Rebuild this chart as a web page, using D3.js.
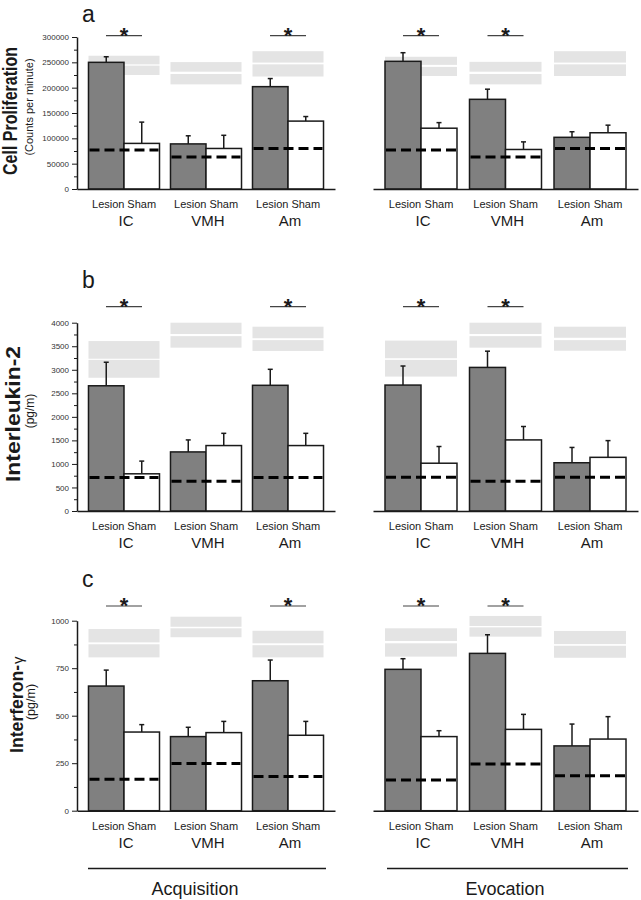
<!DOCTYPE html>
<html><head><meta charset="utf-8">
<script src="https://cdn.jsdelivr.net/npm/d3@7"></script>
<style>body{margin:0;background:#fff} svg{display:block;font-family:"Liberation Sans",Arial,sans-serif}</style>
</head><body><svg id="chart" width="641" height="900"></svg>
<script>
// ---------- data ----------
const groups = ["IC", "VMH", "Am"];
const conditions = ["Lesion", "Sham"];
const phases = ["Acquisition", "Evocation"];
const panelLetters = ["a", "b", "c"];
const panelTitles = ["Cell Proliferation", "Interleukin-2", "Interferon-"];
const panelUnits = ["(Counts per minute)", "(pg/m)", "(pg/m)"];
const yMax = [300000, 4000, 1000];
const yMajorStep = [50000, 500, 250];
const yMinorStep = [25000, 250, 125];

// a: Cell proliferation (counts per minute)
const cellAcqLesion = [250000, 89000, 202000];
const cellAcqSham = [90000, 80000, 134000];
const cellAcqLesionErr = [11000, 16000, 16000];
const cellAcqShamErr = [42000, 26000, 9000];
const cellAcqControl = [77000, 63000, 80000];
const cellEvoLesion = [252000, 177000, 102000];
const cellEvoSham = [120000, 78000, 111000];
const cellEvoLesionErr = [17000, 20000, 11000];
const cellEvoShamErr = [11000, 15000, 15000];
const cellEvoControl = [77000, 63000, 80000];
const cellAcqBands = [[[263000, 246000], [243500, 225000]], [[250500, 231500], [227000, 206500]], [[272000, 249500], [246000, 222000]]];
const cellEvoBands = [[[261000, 245000], [241000, 223000]], [[251000, 231500], [227000, 206500]], [[272000, 249500], [246000, 223000]]];

// b: Interleukin-2 (pg/m)
const il2AcqLesion = [2660, 1255, 2670];
const il2AcqSham = [790, 1390, 1390];
const il2AcqLesionErr = [500, 255, 340];
const il2AcqShamErr = [270, 260, 260];
const il2AcqControl = [710, 630, 710];
const il2EvoLesion = [2675, 3050, 1025];
const il2EvoSham = [1015, 1510, 1140];
const il2EvoLesionErr = [405, 345, 325];
const il2EvoShamErr = [355, 285, 355];
const il2EvoControl = [715, 630, 715];
const il2AcqBands = [[[3610, 3235], [3210, 2830]], [[4000, 3760], [3715, 3470]], [[3915, 3670], [3630, 3400]]];
const il2EvoBands = [[[3620, 3245], [3210, 2855]], [[4000, 3760], [3715, 3470]], [[3915, 3680], [3630, 3405]]];

// c: Interferon-gamma (pg/m)
const ifnAcqLesion = [656, 390, 684];
const ifnAcqSham = [414, 411, 397];
const ifnAcqLesionErr = [84, 49, 109];
const ifnAcqShamErr = [39, 59, 73];
const ifnAcqControl = [165, 248, 180];
const ifnEvoLesion = [744, 828, 341];
const ifnEvoSham = [390, 428, 377];
const ifnEvoLesionErr = [56, 98, 115];
const ifnEvoShamErr = [31, 79, 118];
const ifnEvoControl = [162, 246, 184];
const ifnAcqBands = [[[956, 886], [876, 807]], [[1021, 968], [960, 913]], [[947, 881], [871, 807]]];
const ifnEvoBands = [[[960, 893], [881, 811]], [[1025, 972], [965, 916]], [[946, 877], [868, 805]]];

// significant lesion vs sham differences
const sigAcq = [["IC", "Am"], ["IC", "Am"], ["IC", "Am"]];
const sigEvo = [["IC", "VMH"], ["IC", "VMH"], ["IC", "VMH"]];

// ---------- assemble ----------
const panelData = [
  [{lesion: cellAcqLesion, sham: cellAcqSham, lErr: cellAcqLesionErr, sErr: cellAcqShamErr, ctrl: cellAcqControl, bands: cellAcqBands, sig: sigAcq[0]},
   {lesion: cellEvoLesion, sham: cellEvoSham, lErr: cellEvoLesionErr, sErr: cellEvoShamErr, ctrl: cellEvoControl, bands: cellEvoBands, sig: sigEvo[0]}],
  [{lesion: il2AcqLesion, sham: il2AcqSham, lErr: il2AcqLesionErr, sErr: il2AcqShamErr, ctrl: il2AcqControl, bands: il2AcqBands, sig: sigAcq[1]},
   {lesion: il2EvoLesion, sham: il2EvoSham, lErr: il2EvoLesionErr, sErr: il2EvoShamErr, ctrl: il2EvoControl, bands: il2EvoBands, sig: sigEvo[1]}],
  [{lesion: ifnAcqLesion, sham: ifnAcqSham, lErr: ifnAcqLesionErr, sErr: ifnAcqShamErr, ctrl: ifnAcqControl, bands: ifnAcqBands, sig: sigAcq[2]},
   {lesion: ifnEvoLesion, sham: ifnEvoSham, lErr: ifnEvoLesionErr, sErr: ifnEvoShamErr, ctrl: ifnEvoControl, bands: ifnEvoBands, sig: sigEvo[2]}]
];

// ---------- layout ----------
const panelLayout = [
  {y0: 189, y1: 37, sigY: 35.7, letterY: 22, titleX: 17, titleLen: 128, titleSize: 20, unitX: 33, unitSize: 11, titleCY: 111, unitCY: 107},
  {y0: 511, y1: 322.7, sigY: 306.7, letterY: 288, titleX: 20, titleLen: 136, titleSize: 21, unitX: 34, unitSize: 12, titleCY: 414, unitCY: 411},
  {y0: 810.7, y1: 620.7, sigY: 606, letterY: 587, titleX: 23, titleLen: 88, titleSize: 19, unitX: 35, unitSize: 12.5, titleCY: 709, unitCY: 702}
];
const phaseLayout = [
  {range: [77, 335], pIn: 0.134, pOut: 0.14, lineX: [88, 326], textX: 195},
  {range: [373, 638], pIn: 0.148, pOut: 0.142, lineX: [387, 628], textX: 505}
];

const svg = d3.select("#chart");
const ink = "#1a1a1a";

panelData.forEach((panel, pi) => {
  const lay = panelLayout[pi];
  const y = d3.scaleLinear().domain([0, yMax[pi]]).range([lay.y0, lay.y1]);

  // panel letter
  svg.append("text").attr("x", 82).attr("y", lay.letterY).attr("font-size", 23).attr("fill", ink).text(panelLetters[pi]);

  // y axis (left phase only)
  const majors = d3.range(0, yMax[pi] + 1, yMajorStep[pi]);
  const minors = d3.range(0, yMax[pi] + 1, yMinorStep[pi]).filter(v => !majors.includes(v));
  const axX = phaseLayout[0].range[0];
  const gy = svg.append("g").attr("transform", `translate(${axX},0)`)
    .call(d3.axisLeft(y).tickValues(majors).tickSize(5).tickSizeOuter(0).tickPadding(3).tickFormat(d3.format("d")));
  gy.select(".domain").attr("stroke", ink).attr("stroke-width", 1.5);
  gy.selectAll(".tick line").attr("stroke", ink).attr("stroke-width", 1);
  gy.selectAll(".tick text").attr("font-size", 8).attr("fill", "#333").attr("font-family", "'Liberation Sans', Arial, sans-serif");
  const gm = svg.append("g").attr("transform", `translate(${axX},0)`)
    .call(d3.axisLeft(y).tickValues(minors).tickSize(3).tickSizeOuter(0).tickFormat(""));
  gm.select(".domain").remove();
  gm.selectAll(".tick line").attr("stroke", ink).attr("stroke-width", 1);

  // y titles
  const t = svg.append("text")
    .attr("transform", `translate(${lay.titleX},${lay.titleCY}) rotate(-90)`)
    .attr("text-anchor", "middle").attr("font-weight", "bold").attr("font-size", lay.titleSize).attr("fill", ink)
    .attr("textLength", lay.titleLen).attr("lengthAdjust", "spacingAndGlyphs")
    .text(panelTitles[pi]);
  if (pi === 2) {
    svg.append("text")
      .attr("transform", `translate(${lay.titleX},${lay.titleCY - lay.titleLen / 2 - 1}) rotate(-90)`)
      .attr("text-anchor", "start").attr("font-size", 15).attr("fill", ink).text("γ");
  }
  svg.append("text")
    .attr("transform", `translate(${lay.unitX},${lay.unitCY}) rotate(-90)`)
    .attr("text-anchor", "middle").attr("font-size", lay.unitSize).attr("fill", ink)
    .text(panelUnits[pi]);

  panel.forEach((d, phi) => {
    const pl = phaseLayout[phi];
    const xg = d3.scaleBand().domain(groups).range(pl.range).paddingInner(pl.pIn).paddingOuter(pl.pOut);
    const xc = d3.scaleBand().domain(conditions).range([0, xg.bandwidth()]);
    const g = svg.append("g");

    // grey bands
    groups.forEach((grp, gi) => {
      d.bands[gi].forEach(b => {
        g.append("rect").attr("x", xg(grp)).attr("width", xg.bandwidth())
          .attr("y", y(b[0])).attr("height", y(b[1]) - y(b[0])).attr("fill", "#e4e4e4");
      });
    });

    // x axis line
    const gx = svg.append("g").attr("transform", `translate(0,${lay.y0})`)
      .call(d3.axisBottom(xg).tickSize(0).tickSizeOuter(0).tickFormat(""));
    gx.select(".domain").attr("stroke", ink).attr("stroke-width", 1.5);

    const rows = groups.map((grp, gi) => [
      {grp, cond: "Lesion", v: d.lesion[gi], e: d.lErr[gi]},
      {grp, cond: "Sham", v: d.sham[gi], e: d.sErr[gi]}
    ]).flat();

    // error bars (upper only)
    rows.forEach(r => {
      const cx = xg(r.grp) + xc(r.cond) + xc.bandwidth() / 2;
      g.append("line").attr("x1", cx).attr("x2", cx).attr("y1", y(r.v)).attr("y2", y(r.v + r.e))
        .attr("stroke", ink).attr("stroke-width", 1.5);
      g.append("line").attr("x1", cx - 2.5).attr("x2", cx + 2.5).attr("y1", y(r.v + r.e)).attr("y2", y(r.v + r.e))
        .attr("stroke", ink).attr("stroke-width", 1.5);
    });

    // bars
    g.selectAll("rect.bar").data(rows).join("rect").attr("class", "bar")
      .attr("x", r => xg(r.grp) + xc(r.cond)).attr("width", xc.bandwidth())
      .attr("y", r => y(r.v)).attr("height", r => lay.y0 - y(r.v))
      .attr("fill", r => r.cond === "Lesion" ? "#808080" : "#ffffff")
      .attr("stroke", ink).attr("stroke-width", 1.5);

    // control dashed lines
    groups.forEach((grp, gi) => {
      g.append("line").attr("x1", xg(grp) + 1).attr("x2", xg(grp) + xg.bandwidth() - 1)
        .attr("y1", y(d.ctrl[gi])).attr("y2", y(d.ctrl[gi]))
        .attr("stroke", "#000").attr("stroke-width", 3).attr("stroke-dasharray", "10,5");
    });

    // significance
    d.sig.forEach(grp => {
      const cx = xg(grp) + xg.bandwidth() / 2;
      g.append("line").attr("x1", cx - 18).attr("x2", cx + 18).attr("y1", lay.sigY).attr("y2", lay.sigY)
        .attr("stroke", "#444").attr("stroke-width", 1.2);
      g.append("text").attr("x", cx).attr("y", lay.sigY + 7).attr("text-anchor", "middle")
        .attr("font-size", 22).attr("font-weight", "bold").attr("fill", ink).text("*");
    });

    // condition and group labels
    rows.forEach(r => {
      g.append("text").attr("x", xg(r.grp) + xc(r.cond) + xc.bandwidth() / 2 + (r.cond === "Lesion" ? 2 : 0))
        .attr("y", lay.y0 + 19).attr("text-anchor", "middle").attr("font-size", 11).attr("fill", ink).text(r.cond);
    });
    groups.forEach(grp => {
      g.append("text").attr("x", xg(grp) + xg.bandwidth() / 2 + 2).attr("y", lay.y0 + 37)
        .attr("text-anchor", "middle").attr("font-size", 15).attr("fill", ink).text(grp);
    });
  });
});

// phase brackets
phases.forEach((ph, phi) => {
  const pl = phaseLayout[phi];
  svg.append("line").attr("x1", pl.lineX[0]).attr("x2", pl.lineX[1]).attr("y1", 868.5).attr("y2", 868.5)
    .attr("stroke", ink).attr("stroke-width", 1.5);
  svg.append("text").attr("x", pl.textX).attr("y", 895).attr("text-anchor", "middle")
    .attr("font-size", 18).attr("fill", ink).text(ph);
});
</script>
</body></html>
